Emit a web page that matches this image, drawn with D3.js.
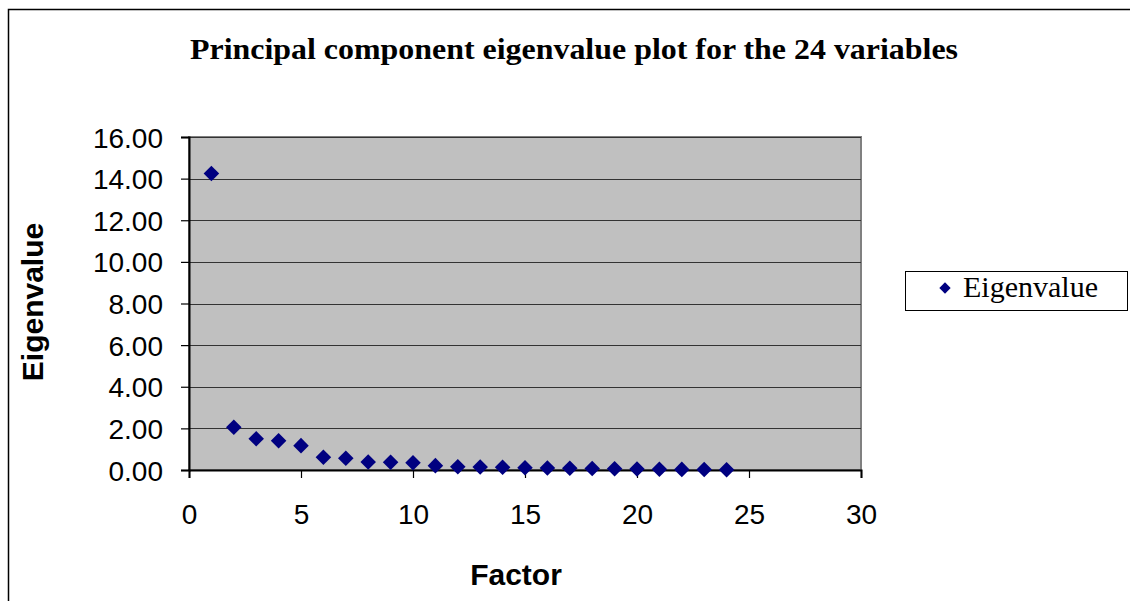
<!DOCTYPE html>
<head>
  <meta charset="utf-8">
  <script src="https://d3js.org/d3.v7.min.js"></script>
  <style>
    body { margin:0; background:#fff; }
    svg { display:block; }
  </style>
</head>
<body>
<script>
  // factors 1..24 and their eigenvalues
  var factors = d3.range(1, 25);
  var eigenvalues = [14.25, 2.05, 1.50, 1.41, 1.17, 0.61, 0.56, 0.38, 0.37, 0.35,
                     0.21, 0.16, 0.14, 0.13, 0.11, 0.10, 0.08, 0.07, 0.06, 0.05,
                     0.04, 0.03, 0.02, 0.01];
  var xTicks = [0, 5, 10, 15, 20, 25, 30];
  var yTicks = [0, 2, 4, 6, 8, 10, 12, 14, 16];

  var width = 1130, height = 601;
  var plot = {left: 189, right: 861, top: 137, bottom: 470};

  var svg = d3.select("body").append("svg")
    .attr("width", width).attr("height", height);

  // chart frame
  svg.append("rect")
    .attr("x", 8.5).attr("y", 9.5)
    .attr("width", width).attr("height", height)
    .attr("fill", "#fff").attr("stroke", "#000").attr("stroke-width", 1.5);

  var x = d3.scaleLinear().domain([0, 30]).range([plot.left, plot.right]);
  var y = d3.scaleLinear().domain([0, 16]).range([plot.bottom, plot.top]);

  // plot area
  svg.append("rect")
    .attr("x", plot.left).attr("y", plot.top)
    .attr("width", plot.right - plot.left).attr("height", plot.bottom - plot.top)
    .attr("fill", "#c0c0c0").attr("stroke", "#808080").attr("stroke-width", 2);

  // gridlines
  svg.selectAll(".grid").data(yTicks.slice(1)).enter().append("line")
    .attr("x1", plot.left).attr("x2", plot.right)
    .attr("y1", function(d) { return Math.round(y(d)) + 0.5; })
    .attr("y2", function(d) { return Math.round(y(d)) + 0.5; })
    .attr("stroke", "#333").attr("stroke-width", 1.2);

  // axes
  var xAxis = svg.append("g")
    .attr("transform", "translate(0," + plot.bottom + ")")
    .call(d3.axisBottom(x).tickValues(xTicks).tickSize(8).tickPadding(32).tickFormat(d3.format("d")));
  var yAxis = svg.append("g")
    .attr("transform", "translate(" + plot.left + ",0)")
    .call(d3.axisLeft(y).tickValues(yTicks).tickSize(8).tickPadding(18).tickFormat(d3.format(".2f")));

  [xAxis, yAxis].forEach(function(g) {
    g.select(".domain").attr("stroke", "#000").attr("stroke-width", 2);
    g.selectAll(".tick line").attr("stroke", "#000").attr("stroke-width", 1.2);
    g.selectAll(".tick text")
      .attr("font-family", "Liberation Sans, Arial, sans-serif")
      .attr("font-size", 28).attr("fill", "#000");
  });
  xAxis.selectAll(".tick text").attr("dy", "0.5em");
  yAxis.selectAll(".tick text").attr("dy", "0.36em");

  // points, drawn as rotated squares (diamonds)
  svg.selectAll(".pt").data(factors).enter().append("rect")
    .attr("x", -5.5).attr("y", -5.5).attr("width", 11).attr("height", 11)
    .attr("transform", function(d, i) {
      return "translate(" + x(d) + "," + y(eigenvalues[i]) + ") rotate(45)";
    })
    .attr("fill", "#000080");

  // title
  svg.append("text")
    .attr("x", 574).attr("y", 59)
    .attr("text-anchor", "middle")
    .attr("font-family", "Liberation Serif, Times New Roman, serif")
    .attr("font-weight", "bold").attr("font-size", 29)
    .attr("textLength", 768).attr("lengthAdjust", "spacingAndGlyphs")
    .text("Principal component eigenvalue plot for the 24 variables");

  // axis titles
  svg.append("text")
    .attr("x", 516).attr("y", 585)
    .attr("text-anchor", "middle")
    .attr("font-family", "Liberation Sans, Arial, sans-serif")
    .attr("font-weight", "bold").attr("font-size", 30)
    .text("Factor");
  svg.append("text")
    .attr("transform", "translate(43,302) rotate(-90)")
    .attr("text-anchor", "middle")
    .attr("font-family", "Liberation Sans, Arial, sans-serif")
    .attr("font-weight", "bold").attr("font-size", 30)
    .text("Eigenvalue");

  // legend
  var legend = svg.append("g");
  legend.append("rect")
    .attr("x", 905.5).attr("y", 271.5).attr("width", 222).attr("height", 39)
    .attr("fill", "#fff").attr("stroke", "#000").attr("stroke-width", 1);
  legend.append("rect")
    .attr("x", -4).attr("y", -4).attr("width", 8).attr("height", 8)
    .attr("transform", "translate(945,288) rotate(45)")
    .attr("fill", "#000080");
  legend.append("text")
    .attr("x", 963).attr("y", 297)
    .attr("font-family", "Liberation Serif, Times New Roman, serif")
    .attr("font-size", 30)
    .text("Eigenvalue");
</script>
</body>
</html>
